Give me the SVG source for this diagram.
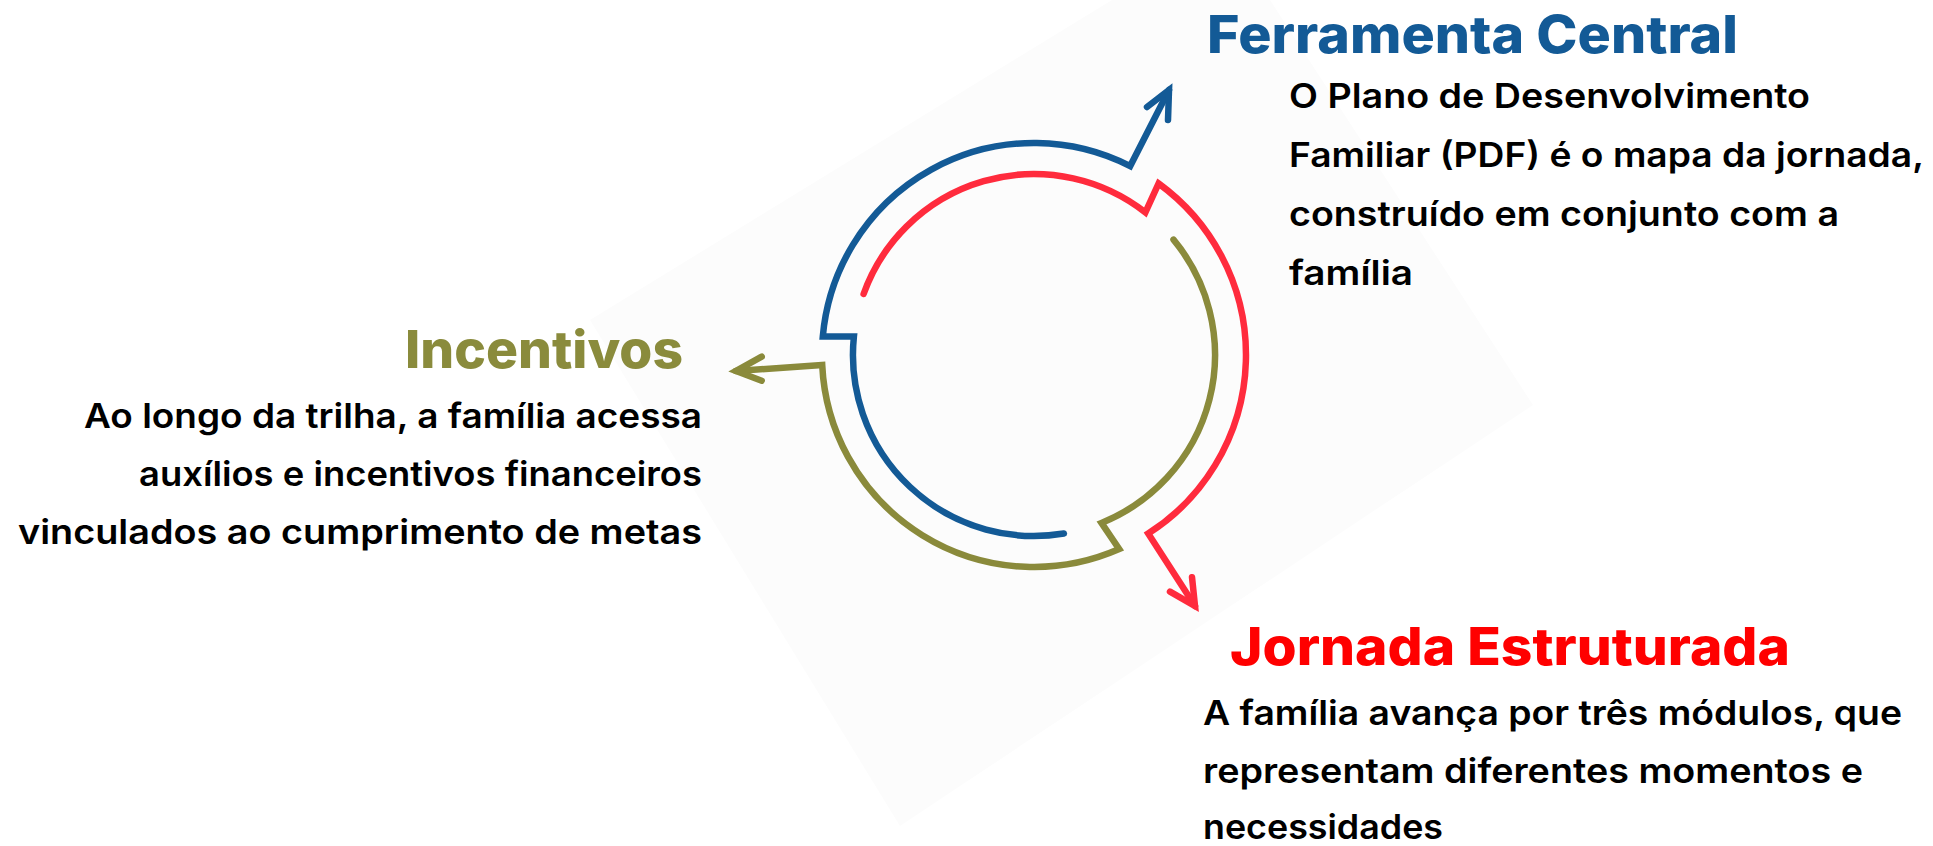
<svg xmlns="http://www.w3.org/2000/svg" width="1933" height="846" viewBox="0 0 1933 846">
<style>
.title{font-family:Inter,"Open Sans","Liberation Sans",sans-serif;font-weight:800;font-size:52px}
.body{font-family:Inter,"Open Sans","Liberation Sans",sans-serif;font-weight:600;font-size:34px;fill:#000}
.arc{fill:none;stroke-width:6.5;stroke-linecap:round;stroke-linejoin:miter}
</style>
<rect width="1933" height="846" fill="#ffffff"/>
<polygon points="1112,0 1270,0 1533,405 900,826 590,320" fill="#fcfcfc"/>
<g id="connectors">
<g id="blue-arc">
<path class="arc" stroke="#135a96" d="M1169,90 L1130.2,166.1 A212,212 0 0 0 822.8,336.5 L853.9,336.5 A181,181 0 0 0 1063.9,533.5"/>
<path class="arc" stroke="#135a96" stroke-linejoin="round" d="M1147,107 L1169,90 L1168,120"/>
</g>
<g id="red-arc">
<path class="arc" stroke="#ff2b3d" d="M863.6,294 A181,181 0 0 1 1145.4,212.4 L1158.6,183.5 A212,212 0 0 1 1148.2,533.6 L1195,606"/>
<path class="arc" stroke="#ff2b3d" stroke-linejoin="round" d="M1170,591.6 L1195,606 L1192,577.2"/>
</g>
<g id="green-arc">
<path class="arc" stroke="#8a8a3b" d="M1173.5,239.6 A181,181 0 0 1 1101.5,522.9 L1119.2,549.1 A212,212 0 0 1 822.2,365 L736,371"/>
<path class="arc" stroke="#8a8a3b" stroke-linejoin="round" d="M761.7,356.7 L736,371 L761.7,380.7"/>
</g>
</g>
<g id="node-ferramenta">
<text class="title" x="1207" y="53" fill="#135a96" textLength="531" lengthAdjust="spacingAndGlyphs">Ferramenta Central</text>
<text class="body" x="1289" y="108" textLength="521" lengthAdjust="spacingAndGlyphs">O Plano de Desenvolvimento</text>
<text class="body" x="1289" y="167" textLength="635" lengthAdjust="spacingAndGlyphs">Familiar (PDF) é o mapa da jornada,</text>
<text class="body" x="1289" y="226" textLength="550" lengthAdjust="spacingAndGlyphs">construído em conjunto com a</text>
<text class="body" x="1289" y="285" textLength="124" lengthAdjust="spacingAndGlyphs">família</text>
</g>
<g id="node-incentivos">
<text class="title" x="405" y="368" fill="#8a8b3c" textLength="278" lengthAdjust="spacingAndGlyphs">Incentivos</text>
<text class="body" x="84" y="428" textLength="618" lengthAdjust="spacingAndGlyphs">Ao longo da trilha, a família acessa</text>
<text class="body" x="139" y="486" textLength="563" lengthAdjust="spacingAndGlyphs">auxílios e incentivos financeiros</text>
<text class="body" x="18" y="544" textLength="684" lengthAdjust="spacingAndGlyphs">vinculados ao cumprimento de metas</text>
</g>
<g id="node-jornada">
<text class="title" x="1230" y="665" fill="#ff0000" textLength="560" lengthAdjust="spacingAndGlyphs">Jornada Estruturada</text>
<text class="body" x="1203" y="725" textLength="699" lengthAdjust="spacingAndGlyphs">A família avança por três módulos, que</text>
<text class="body" x="1203" y="783" textLength="660" lengthAdjust="spacingAndGlyphs">representam diferentes momentos e</text>
<text class="body" x="1203" y="839" textLength="240" lengthAdjust="spacingAndGlyphs">necessidades</text>
</g>
</svg>
